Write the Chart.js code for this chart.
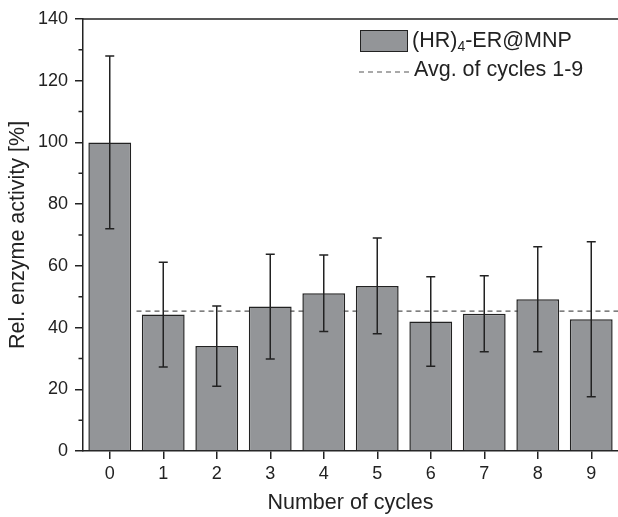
<!DOCTYPE html>
<html>
<head>
<meta charset="utf-8">
<script src="https://cdn.jsdelivr.net/npm/chart.js@4"></script>
<style>
  html, body { margin: 0; padding: 0; background: #fff; }
  #wrap { position: relative; width: 618px; height: 517px; font-family: "Liberation Sans", Arial, sans-serif; color: #222; }
  #chart { position: absolute; left: 0; top: 0; }
  .legend-text { position: absolute; font-size: 21.5px; line-height: 21.5px; white-space: nowrap; }
  .legend-text sub { font-size: 14px; vertical-align: -4px; line-height: 0; }
  #legBox { position: absolute; left: 360px; top: 30px; width: 46px; height: 20px; background: #939598; border: 1.5px solid #222; }
  #legLine { position: absolute; left: 358px; top: 66px; }
</style>
</head>
<body>
<div id="wrap">
  <canvas id="chart" width="618" height="517"></canvas>
  <div id="legBox"></div>
  <div class="legend-text" style="left:412px; top:29.5px;">(HR)<sub>4</sub>-ER@MNP</div>
  <svg id="legLine" width="54" height="12"><line x1="1" y1="6" x2="52" y2="6" stroke="#555" stroke-width="1.2" stroke-dasharray="5 4"/></svg>
  <div class="legend-text" style="left:414px; top:59px;">Avg. of cycles 1-9</div>
</div>
<script>
// Data
const cycles = ['0', '1', '2', '3', '4', '5', '6', '7', '8', '9'];
const activity = [100, 44.2, 34.0, 46.8, 51.1, 53.5, 42.0, 44.5, 49.2, 42.7];
const activityErr = [28, 17, 13, 17, 12.4, 15.5, 14.5, 12.3, 17, 25.1];
const avgCycles = 45.3;          // average of cycles 1-9
const avgSpan = [0.5, 9.5];      // dashed line: between cycle 0/1 to the right edge
const yTicks = { min: 0, max: 140, major: 20, minor: 10 };

const axisColor = '#222';
const barFill = '#939598';
const fontFamily = '"Liberation Sans", Arial, sans-serif';

// average line (behind bars), error bars, minor y ticks and frame lines
const extras = {
    id: 'extras',
    beforeDatasetsDraw(chart) {
        const ctx = chart.ctx;
        const x = chart.scales.x;
        const py = chart.scales.y.getPixelForValue(avgCycles);
        ctx.save();
        ctx.strokeStyle = '#555';
        ctx.lineWidth = 1.2;
        ctx.setLineDash([5, 4]);
        ctx.beginPath();
        ctx.moveTo(x.getPixelForValue(avgSpan[0]), py);
        ctx.lineTo(x.getPixelForValue(avgSpan[1]), py);
        ctx.stroke();
        ctx.restore();
    },
    afterDatasetsDraw(chart) {
        const ctx = chart.ctx;
        const y = chart.scales.y;
        const meta = chart.getDatasetMeta(0);
        ctx.save();
        ctx.strokeStyle = axisColor;
        ctx.lineWidth = 1.5;
        meta.data.forEach((bar, i) => {
            const top = y.getPixelForValue(activity[i] + activityErr[i]);
            const bot = y.getPixelForValue(activity[i] - activityErr[i]);
            ctx.beginPath();
            ctx.moveTo(bar.x, top);
            ctx.lineTo(bar.x, bot);
            ctx.moveTo(bar.x - 4.5, top);
            ctx.lineTo(bar.x + 4.5, top);
            ctx.moveTo(bar.x - 4.5, bot);
            ctx.lineTo(bar.x + 4.5, bot);
            ctx.stroke();
        });
        ctx.restore();
    },
    afterDraw(chart) {
        const ctx = chart.ctx;
        const area = chart.chartArea;
        const y = chart.scales.y;
        ctx.save();
        ctx.strokeStyle = axisColor;
        ctx.lineWidth = 1.5;
        ctx.beginPath();
        ctx.moveTo(area.left, area.top);
        ctx.lineTo(chart.width, area.top);
        ctx.moveTo(area.right, area.bottom);
        ctx.lineTo(chart.width, area.bottom);
        for (let v = yTicks.min + yTicks.minor; v < yTicks.max; v += yTicks.major) {
            const py = y.getPixelForValue(v);
            ctx.moveTo(area.left - 4.5, py);
            ctx.lineTo(area.left, py);
        }
        ctx.stroke();
        ctx.restore();
    }
};

new Chart(document.getElementById('chart'), {
    type: 'bar',
    data: {
        labels: cycles,
        datasets: [{
            label: '(HR)4-ER@MNP',
            data: activity,
            backgroundColor: barFill,
            borderColor: axisColor,
            borderWidth: 1.5,
            barPercentage: 0.8,
            categoryPercentage: 1
        }]
    },
    options: {
        responsive: false,
        animation: false,
        devicePixelRatio: 1,
        layout: { padding: { left: 0, right: 0, top: 19, bottom: 0 } },
        plugins: {
            legend: { display: false },
            tooltip: { enabled: false }
        },
        scales: {
            x: {
                grid: { drawOnChartArea: false, offset: false, tickLength: 8, color: axisColor, lineWidth: 1.5 },
                border: { color: axisColor, width: 1.5 },
                ticks: { color: axisColor, font: { family: fontFamily, size: 18 }, padding: 4, maxRotation: 0 },
                title: { display: true, text: 'Number of cycles', color: axisColor, font: { family: fontFamily, size: 21.5 }, padding: { top: 4, bottom: 1 } },
                afterFit(scale) { scale.height = 66; }
            },
            y: {
                min: yTicks.min,
                max: yTicks.max,
                ticks: { stepSize: yTicks.major, color: axisColor, font: { family: fontFamily, size: 18 }, padding: 7 },
                grid: { drawOnChartArea: false, tickLength: 8, color: axisColor, lineWidth: 1.5 },
                border: { color: axisColor, width: 1.5 },
                title: { display: true, text: 'Rel. enzyme activity [%]', color: axisColor, font: { family: fontFamily, size: 21.5 }, padding: { top: 5, bottom: 0 } },
                afterFit(scale) { scale.width = 83; }
            }
        }
    },
    plugins: [extras]
});
</script>
</body>
</html>
